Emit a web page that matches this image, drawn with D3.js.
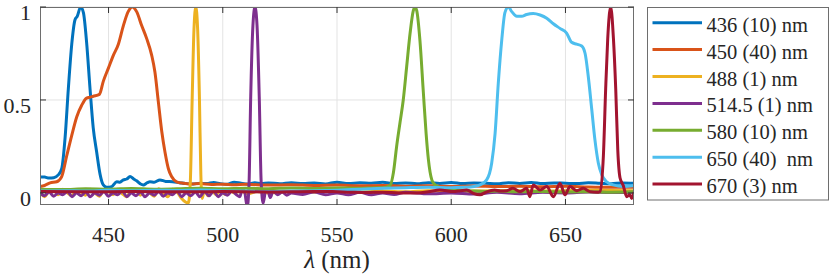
<!DOCTYPE html>
<html><head><meta charset="utf-8">
<script src="https://cdn.jsdelivr.net/npm/d3@7"></script>
<style>body{margin:0;background:#fff}svg{display:block}text{font-family:"Times New Roman",Times,"Liberation Serif","Noto Serif","DejaVu Serif",Tinos,FreeSerif,Georgia,serif}</style>
</head><body><svg id="c" width="830" height="276"></svg>
<script>
const xTicks = [450, 500, 550, 600, 650];
const yTicks = [0, 0.5, 1];
const yTickLabels = ["0", "0.5", "1"];
const seriesNames = ["436 (10) nm", "450 (40) nm", "488 (1) nm", "514.5 (1) nm", "580 (10) nm", "650 (40)  nm", "670 (3) nm"];
const seriesColors = ["#0072BD", "#D95319", "#EDB120", "#7E2F8E", "#77AC30", "#4DBEEE", "#A2142F"];

const wl436 = [420,422,424,426,428,429.5,431,432.4,433.9,435.3,436.3,437.8,439,440.4,441.9,443.3,444.8,446.3,447.7,449.2,451.4,453.6,455,456.5,458,459.4,461,462.3,463.8,465.2,467,468.1,470,472.5,475,478,481,484,487,490,493,496,499,502,505,508,511,514,517,520,525,530,535,540,545,550,555,560,565,570,575,580,585,590,595,600,605,610,615,620,625,630,635,640,645,650,655,660,665,670,675,680];
const val436 = [0.086,0.085,0.08,0.082,0.097,0.13,0.30,0.56,0.80,0.93,0.95,1.0,0.97,0.81,0.56,0.35,0.22,0.10,0.043,0.03,0.034,0.06,0.058,0.07,0.075,0.088,0.075,0.065,0.05,0.043,0.055,0.06,0.058,0.07,0.062,0.06,0.055,0.05,0.048,0.052,0.05,0.056,0.05,0.047,0.058,0.052,0.048,0.055,0.05,0.054,0.049,0.055,0.05,0.053,0.048,0.058,0.05,0.055,0.052,0.057,0.05,0.054,0.049,0.055,0.051,0.056,0.05,0.054,0.052,0.049,0.055,0.051,0.056,0.05,0.054,0.052,0.05,0.055,0.052,0.049,0.054,0.052];

const wl450 = [420,422,424.4,427.3,429.5,431.7,433.9,436.1,438.2,440.4,442,443.3,446,447.7,449.9,452.1,454.3,456.5,458.6,460.4,462.3,464.5,466.7,468.9,470.3,471.8,473.3,474.7,476.2,477.6,479.8,482.7,486,490,495,500,505,510,520,530,540,550,560,570,580,590,600,610,620,630,640,650,660,670,680];
const val450 = [0.034,0.04,0.054,0.06,0.088,0.2,0.31,0.41,0.47,0.51,0.515,0.52,0.53,0.60,0.67,0.74,0.80,0.90,0.975,1.0,0.975,0.90,0.83,0.74,0.65,0.49,0.33,0.22,0.13,0.088,0.06,0.052,0.048,0.05,0.045,0.047,0.044,0.046,0.042,0.044,0.04,0.042,0.038,0.04,0.036,0.038,0.035,0.037,0.034,0.036,0.033,0.036,0.032,0.03,0.03];

const wl488 = [420,422,424,426,428,430,432,434,436,438,440,442,444,446,448,450,452,454,456,458,460,462,464,466,468,470,472,474,476,478,480,482,484.9,485.8,486.6,487.4,488.2,489.0,489.8,490.4,491.0,492,493.5,495,497,499,501,503,505,508,511,515,520,530,540,550,560,570,580,590,600,620,640,660,680];
const val488 = [0.005,-0.02,0.01,0.015,-0.01,0.02,0.0,-0.015,0.018,0.005,-0.012,0.02,0.0,-0.018,0.015,0.01,-0.01,0.02,-0.005,-0.02,0.015,0.012,-0.012,0.02,0.0,-0.018,0.022,0.0,-0.02,0.02,0.005,-0.03,-0.055,0.06,0.5,0.88,1.0,0.88,0.5,0.1,-0.03,0.02,-0.015,0.02,-0.01,0.015,-0.008,0.012,0.0,0.01,-0.005,0.008,0.0,0.008,0.003,0.01,0.005,0.01,0.006,0.012,0.008,0.012,0.01,0.014,0.012];

const wl514 = [420,422,424,426,428,430,432,434,436,438,440,442,444,446,448,450,452,454,456,458,460,462,464,466,468,470,472,474,476,478,480,482,484,486,488,490,492,494,496,498,500,502,504,506,507.5,508.5,509.5,510.7,511.5,512.2,513.2,514.1,515.0,516.0,516.8,517.7,518.8,519.8,520.8,522,524,526,528,530,535,540,545,550,555,560,565,570,575,580,590,600,610,620,630,640,650,660,670,680];
const val514 = [0.0,-0.015,0.005,-0.018,0.0,-0.01,0.008,-0.02,0.0,-0.015,0.005,-0.02,0.0,-0.012,0.008,-0.018,0.0,-0.01,0.01,-0.02,0.0,-0.015,0.005,-0.02,0.0,-0.012,0.008,-0.018,0.0,-0.01,0.01,-0.02,0.0,-0.015,0.005,-0.02,0.008,-0.015,0.01,-0.02,0.0,-0.012,0.01,-0.01,-0.02,0.02,0.01,-0.075,0.05,0.5,0.9,1.0,0.9,0.5,0.06,-0.055,0.015,0.01,-0.025,0.01,-0.01,0.005,-0.012,0.0,-0.008,0.005,-0.01,0.0,-0.01,0.004,-0.01,0.0,-0.008,0.004,-0.005,0.0,-0.006,0.003,-0.004,0.004,0.0,0.005,0.002,0.004];

const wl580 = [420,430,440,450,460,470,480,490,500,510,520,530,540,550,560,565,570,573.2,574.7,576.1,577.6,579,580.5,582,583.4,584.1,584.9,586.3,587.8,589,590,591.5,592.9,595,600,605,610,615,620,630,640,650,660,670,680];
const val580 = [0.02,0.018,0.022,0.02,0.024,0.02,0.022,0.025,0.022,0.025,0.023,0.026,0.024,0.027,0.025,0.027,0.028,0.04,0.11,0.25,0.38,0.5,0.68,0.86,0.98,1.0,0.98,0.82,0.54,0.32,0.18,0.07,0.043,0.03,0.02,0.015,0.01,0.008,0.01,0.006,0.008,0.005,0.006,0.004,0.006];

const wl650 = [420,430,440,450,460,470,480,490,500,510,520,530,540,550,560,570,580,590,600,605,610,612.6,615.5,617.7,619.2,620.6,622.1,623.5,625,626.5,628.7,630.8,633,635.9,638.9,641.8,644.7,647.6,650.5,652.7,654.9,657.1,658.6,660,661.5,662.9,664.4,665.9,668,670.9,675.3,680];
const val650 = [0.01,0.012,0.01,0.014,0.012,0.015,0.013,0.016,0.012,0.01,0.008,0.01,0.012,0.015,0.02,0.025,0.028,0.03,0.028,0.03,0.035,0.043,0.07,0.16,0.32,0.59,0.82,0.97,1.0,0.975,0.95,0.95,0.96,0.965,0.957,0.94,0.91,0.885,0.86,0.81,0.80,0.79,0.75,0.625,0.45,0.285,0.16,0.097,0.06,0.043,0.034,0.04];

const wl670 = [420,440,460,480,500,520,540,548,556,563,570,577.6,585,590,595,600.9,604,606.8,609.7,612.6,615.5,619,621.5,624.3,627,630.1,633,634.4,635.9,638.9,641.8,644.7,647.6,649.8,652,654.9,657.8,660.7,664.4,665.1,666.6,667.6,668.5,669.8,671,672,672.9,673.9,675.3,676.8,678.2,679,680];
const val670 = [0.007,0.006,0.007,0.006,0.007,0.005,0.008,0.007,0.004,0.002,0.004,0.0,0.0,0.006,0.016,0.007,0.012,0.016,-0.002,-0.01,0.006,0.016,0.01,0.012,0.025,0.007,0.025,-0.02,0.043,0.016,0.034,-0.02,0.052,-0.01,0.034,0.012,0.025,0.007,0.004,0.007,0.20,0.56,0.83,1.0,0.83,0.56,0.23,0.08,0.04,-0.02,-0.01,-0.03,0.005];

const series = [
  {x: wl436, y: val436}, {x: wl450, y: val450}, {x: wl488, y: val488},
  {x: wl514, y: val514}, {x: wl580, y: val580}, {x: wl650, y: val650}, {x: wl670, y: val670}
].map((s, i) => ({name: seriesNames[i], color: seriesColors[i], pts: s.x.map((v, j) => [v, s.y[j]])}));

const L = 40, R = 634, T = 7, B = 205;
const x = d3.scaleLinear().domain([420, 680]).range([L, R]);
const y = d3.scaleLinear().domain([-0.065, 1]).range([B, T]);
const svg = d3.select("#c");

// grid
svg.append("g").selectAll("line").data(xTicks).join("line")
  .attr("x1", d => x(d)).attr("x2", d => x(d)).attr("y1", T).attr("y2", B)
  .attr("stroke", "#e3e3e3").attr("stroke-width", 1);
svg.append("g").selectAll("line").data(yTicks).join("line")
  .attr("x1", L).attr("x2", R).attr("y1", d => y(d)).attr("y2", d => y(d))
  .attr("stroke", "#e3e3e3").attr("stroke-width", 1);

// lines
svg.append("clipPath").attr("id", "clip").append("rect")
  .attr("x", L).attr("y", T).attr("width", R - L).attr("height", B - T);
const line = d3.line().x(d => x(d[0])).y(d => y(d[1])).curve(d3.curveMonotoneX);
svg.append("g").attr("clip-path", "url(#clip)").selectAll("path").data(series).join("path")
  .attr("d", d => line(d.pts)).attr("fill", "none").attr("stroke", d => d.color)
  .attr("stroke-width", 3).attr("stroke-linejoin", "round");

// box
svg.append("rect").attr("x", L + 0.5).attr("y", T + 0.5).attr("width", R - L - 1).attr("height", B - T - 1)
  .attr("fill", "none").attr("stroke", "#6e6e6e").attr("stroke-width", 1);

// ticks
const tl = 6;
const tg = svg.append("g").attr("stroke", "#333").attr("stroke-width", 1);
xTicks.forEach(t => {
  tg.append("line").attr("x1", x(t)).attr("x2", x(t)).attr("y1", B).attr("y2", B - tl);
  tg.append("line").attr("x1", x(t)).attr("x2", x(t)).attr("y1", T).attr("y2", T + tl);
});
yTicks.forEach(t => {
  tg.append("line").attr("x1", L).attr("x2", L + tl).attr("y1", y(t)).attr("y2", y(t));
  tg.append("line").attr("x1", R).attr("x2", R - tl).attr("y1", y(t)).attr("y2", y(t));
});

// tick labels
svg.append("g").selectAll("text").data(xTicks).join("text")
  .attr("x", d => x(d)).attr("y", 242).attr("text-anchor", "middle")
  .style("font-size", "22px").attr("fill", "#262626").text(d => d);
svg.append("g").selectAll("text").data(yTicks).join("text")
  .attr("x", 31).attr("y", d => y(d) + 13).attr("text-anchor", "end")
  .style("font-size", "22px").attr("fill", "#262626").text((d, i) => yTickLabels[i]);

// x label
const xl = svg.append("text").attr("x", x(550)).attr("y", 268).attr("text-anchor", "middle")
  .style("font-size", "25px").attr("fill", "#262626");
xl.append("tspan").style("font-style", "italic").text("λ");
xl.append("tspan").text(" (nm)");

// legend
const lg = svg.append("g");
lg.append("rect").attr("x", 647.5).attr("y", 7.5).attr("width", 181).attr("height", 192.5)
  .attr("fill", "#fff").attr("stroke", "#6e6e6e").attr("stroke-width", 1);
series.forEach((s, i) => {
  const yy = 22.7 + i * 26.9;
  lg.append("line").attr("x1", 652.5).attr("x2", 702).attr("y1", yy).attr("y2", yy)
    .attr("stroke", s.color).attr("stroke-width", 3);
  lg.append("text").attr("x", 706.5).attr("y", yy + 9)
    .style("font-size", "20.5px").attr("fill", "#262626").style("white-space", "pre").text(s.name);
});
</script></body></html>
